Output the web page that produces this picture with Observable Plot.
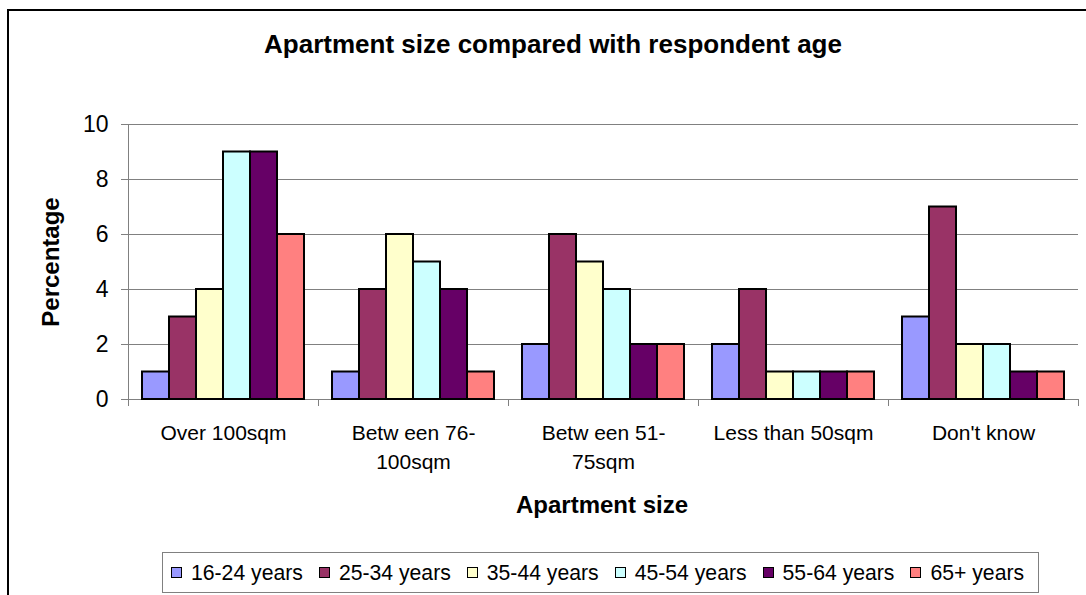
<!DOCTYPE html>
<html>
<head>
<meta charset="utf-8">
<script src="https://cdn.jsdelivr.net/npm/d3@7"></script>
<script src="https://cdn.jsdelivr.net/npm/@observablehq/plot@0.6"></script>
<style>
  html, body { margin: 0; padding: 0; background: #fff; overflow: hidden; }
  #wrap { position: relative; width: 1086px; height: 595px; overflow: hidden; background: #fff;
          font-family: "Liberation Sans", Arial, sans-serif; color: #000; }
  #chart { position: absolute; left: 0; top: 0; }
  #frame { position: absolute; left: 7px; top: 9px; width: 1200px; height: 700px;
           border: 2px solid #000; box-sizing: border-box; pointer-events: none; }
  #title { position: absolute; left: 0; width: 1106px; top: 31px; text-align: center;
           font-weight: bold; font-size: 26px; line-height: 26px; white-space: nowrap; }
  #ytitle { position: absolute; left: 51px; top: 262px; width: 300px; height: 24px; line-height: 24px;
            font-weight: bold; font-size: 24px; text-align: center; white-space: nowrap;
            transform: translate(-50%, -50%) rotate(-90deg); }
  #xtitle { position: absolute; left: 452px; width: 300px; top: 493px; height: 24px; line-height: 24px;
            font-weight: bold; font-size: 24px; text-align: center; white-space: nowrap; }
  #legend { position: absolute; left: 162px; top: 552px; width: 877px; height: 41px;
            border: 1px solid #808080; box-sizing: border-box; display: flex; align-items: center;
            padding-left: 8px; font-size: 21.2px; white-space: nowrap; }
  .item { display: flex; align-items: center; margin-right: 16px; }
  .sw { width: 11px; height: 11px; box-sizing: border-box; border: 1.5px solid #000; margin-right: 9px; }
</style>
</head>
<body>
<div id="wrap">
  <div id="chart"></div>
  <div id="title">Apartment size compared with respondent age</div>
  <div id="ytitle">Percentage</div>
  <div id="xtitle">Apartment size</div>
  <div id="legend"></div>
  <div id="frame"></div>
</div>
<script>
// ---- data ----
const categories = ["Over 100sqm", "Between 76-100sqm", "Between 51-75sqm", "Less than 50sqm", "Don't know"];
const categoryLabels = ["Over 100sqm", "Betw een 76-\n100sqm", "Betw een 51-\n75sqm", "Less than 50sqm", "Don't know"];
const ageGroups = ["16-24 years", "25-34 years", "35-44 years", "45-54 years", "55-64 years", "65+ years"];
const ageColors = ["#9999FF", "#993366", "#FFFFCC", "#CCFFFF", "#660066", "#FF8080"];

const age16_24 = [1, 1, 2, 2, 3];
const age25_34 = [3, 4, 6, 4, 7];
const age35_44 = [4, 6, 5, 1, 2];
const age45_54 = [9, 5, 4, 1, 2];
const age55_64 = [9, 4, 2, 1, 1];
const age65plus = [6, 1, 2, 1, 1];

const yTicks = [0, 2, 4, 6, 8, 10];

// ---- build table ----
const seriesValues = [age16_24, age25_34, age35_44, age45_54, age55_64, age65plus];
const rows = [];
categories.forEach((c, i) => {
  ageGroups.forEach((a, j) => rows.push({category: c, age: a, value: seriesValues[j][i]}));
});
const labelMap = new Map(categories.map((c, i) => [c, categoryLabels[i]]));

const W = 1086, H = 595;
const mTop = 124, mBottom = 196, mLeft = 127, mRight = 8;
const innerH = H - mTop - mBottom;
const grey = "#808080";

const chart = Plot.plot({
  width: W, height: H,
  marginLeft: mLeft, marginRight: mRight, marginTop: mTop, marginBottom: mBottom,
  style: {fontFamily: "'Liberation Sans', Arial, sans-serif", background: "transparent", color: "#000"},
  fx: {domain: categories, padding: 0, label: null, axis: null},
  x: {domain: ageGroups, paddingInner: 0, paddingOuter: 0.5, axis: null},
  y: {domain: [0, 10], label: null, axis: null},
  color: {domain: ageGroups, range: ageColors},
  marks: [
    Plot.gridY(yTicks, {stroke: grey, strokeOpacity: 1, strokeWidth: 1}),
    Plot.frame({anchor: "left", facetAnchor: "left", stroke: grey, strokeWidth: 1}),
    Plot.frame({anchor: "left", stroke: grey, strokeWidth: 1, insetTop: innerH, insetBottom: -6}),
    Plot.frame({anchor: "right", stroke: grey, strokeWidth: 1, insetTop: innerH, insetBottom: -6}),
    Plot.axisY(yTicks, {tickSize: 7, tickPadding: 13, fontSize: 23, stroke: grey, fill: "#000", label: null}),
    Plot.axisFx({anchor: "bottom", tickSize: 0, tickPadding: 20, fontSize: 21, lineHeight: 1.38,
                 tickFormat: d => labelMap.get(d), label: null, fill: "#000"}),
    Plot.barY(rows, {fx: "category", x: "age", y: "value", fill: "age", stroke: "#000", strokeWidth: 2})
  ]
});
document.getElementById("chart").appendChild(chart);

// ---- legend ----
const legend = d3.select("#legend");
ageGroups.forEach((a, j) => {
  const it = legend.append("div").attr("class", "item");
  it.append("div").attr("class", "sw").style("background", ageColors[j]);
  it.append("span").text(a);
});
</script>
</body>
</html>
